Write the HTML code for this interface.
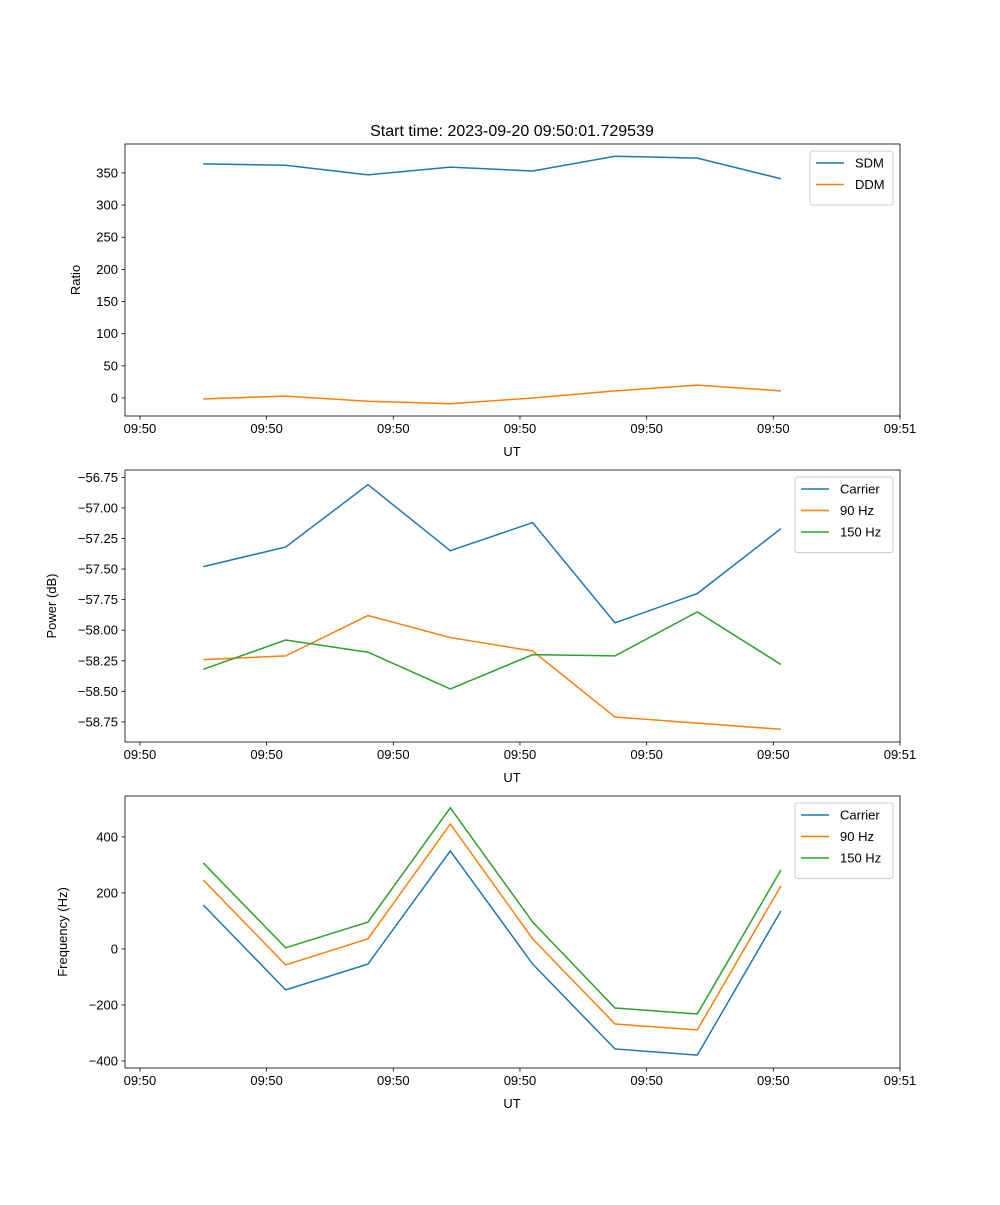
<!DOCTYPE html>
<html><head><meta charset="utf-8"><style>
body{margin:0;background:#fff}
svg{font-family:"Liberation Sans","DejaVu Sans",sans-serif}
</style></head><body>
<svg id="fig" width="1000" height="1200" viewBox="0 0 1000 1200">
<rect width="1000" height="1200" fill="#fff"/>
<text x="512" y="136" font-size="16" text-anchor="middle">Start time: 2023-09-20 09:50:01.729539</text>
</svg>
<script>
const times = [5.0, 11.5, 18.0, 24.5, 31.0, 37.5, 44.0, 50.6];
const xTicks = [0, 10, 20, 30, 40, 50, 60];
const xTickLabels = ["09:50","09:50","09:50","09:50","09:50","09:50","09:51"];
const sdm = [364, 362, 347, 359, 353, 376, 373, 341];
const ddm = [-1.5, 3, -5, -9, 0, 11, 20, 11];
const ratioTicks = [0, 50, 100, 150, 200, 250, 300, 350];
const powCarrier = [-57.48, -57.32, -56.81, -57.35, -57.12, -57.94, -57.70, -57.17];
const pow90 = [-58.24, -58.21, -57.88, -58.06, -58.17, -58.71, -58.76, -58.81];
const pow150 = [-58.32, -58.08, -58.18, -58.48, -58.20, -58.21, -57.85, -58.28];
const powTicks = [-56.75, -57.00, -57.25, -57.50, -57.75, -58.00, -58.25, -58.50, -58.75];
const freqCarrier = [157, -146, -54, 350, -54, -357, -379, 136];
const freq90 = [246, -57, 36, 446, 36, -268, -289, 225];
const freq150 = [307, 4, 96, 504, 96, -211, -232, 282];
const freqTicks = [-400, -200, 0, 200, 400];

const NS = "http://www.w3.org/2000/svg";
const svg = document.getElementById("fig");
const X0 = 125, X1 = 900, XMIN = -1.18, XMAX = 60;
function xs(v){ return X0 + (v - XMIN) / (XMAX - XMIN) * (X1 - X0); }
function mk(tag, attrs, parent){ const e = document.createElementNS(NS, tag); for (const k in attrs) e.setAttribute(k, attrs[k]); (parent||svg).appendChild(e); return e; }

function panel(name, top, bot, ymin, ymax, yTicks, fmt, ylabel, series, legend){
  const g = mk("g", {});
  
  
  const ys = v => bot - (v - ymin) / (ymax - ymin) * (bot - top);
  series.forEach(s => {
    const p = mk("polyline", {points: s.vals.map((v,i) => xs(times[i]) + "," + ys(v)).join(" "), fill: "none", stroke: s.color, "stroke-width": 1.5}, g);
    
    
  });
  const fr = mk("rect", {x: X0, y: top, width: X1 - X0, height: bot - top, fill: "none", stroke: "#000", "stroke-width": 0.8}, g);
  
  
  xTicks.forEach((t,i) => {
    const x = xs(t);
    mk("line", {x1: x, x2: x, y1: bot, y2: bot + 3.5, stroke: "#000", "stroke-width": 0.8}, g);
    const tx = mk("text", {x: x, y: bot + 17, "font-size": 13, "text-anchor": "middle"}, g);
    tx.textContent = xTickLabels[i];
    
    
  });
  yTicks.forEach(t => {
    const y = ys(t);
    mk("line", {x1: X0 - 3.5, x2: X0, y1: y, y2: y, stroke: "#000", "stroke-width": 0.8}, g);
    const tx = mk("text", {x: X0 - 7, y: y + 4.5, "font-size": 13, "text-anchor": "end"}, g);
    tx.textContent = fmt(t);
    
    
  });
  const xl = mk("text", {x: 512, y: bot + 40, "font-size": 13, "text-anchor": "middle"}, g);
  xl.textContent = "UT";
  
  
  const yl = mk("text", {x: 0, y: 0, "font-size": 13, "text-anchor": "middle", transform: "translate(" + legend.ylx + "," + ((top + bot) / 2) + ") rotate(-90)"}, g);
  yl.textContent = ylabel;
  
  
  const lg = mk("g", {}, g);
  
  
  mk("rect", {x: legend.x, y: top + 7, width: 893 - legend.x, height: 11 + series.length * 21.5, rx: 3, fill: "#fff", stroke: "#ccc", "stroke-width": 1}, lg);
  series.forEach((s,i) => {
    const y = top + 19 + i * 21.5;
    mk("line", {x1: legend.x + 6, x2: legend.x + 34, y1: y, y2: y, stroke: s.color, "stroke-width": 1.5}, lg);
    const t = mk("text", {x: legend.x + 45, y: y + 4.5, "font-size": 13}, lg);
    t.textContent = s.label;
    
    
  });
}

panel("ratio", 144, 416, -28, 395, ratioTicks, v => String(v), "Ratio",
  [{key:"sdm", label:"SDM", vals:sdm, color:"#1f77b4"}, {key:"ddm", label:"DDM", vals:ddm, color:"#ff7f0e"}],
  {x: 810, ylx: 80});
panel("power", 470, 742, -58.914, -56.69, powTicks, v => v.toFixed(2).replace("-", "\u2212"), "Power (dB)",
  [{key:"carrier", label:"Carrier", vals:powCarrier, color:"#1f77b4"}, {key:"90hz", label:"90 Hz", vals:pow90, color:"#ff7f0e"}, {key:"150hz", label:"150 Hz", vals:pow150, color:"#2ca02c"}],
  {x: 795, ylx: 56});
panel("frequency", 796, 1068, -425, 546, freqTicks, v => String(v).replace("-", "\u2212"), "Frequency (Hz)",
  [{key:"carrier", label:"Carrier", vals:freqCarrier, color:"#1f77b4"}, {key:"90hz", label:"90 Hz", vals:freq90, color:"#ff7f0e"}, {key:"150hz", label:"150 Hz", vals:freq150, color:"#2ca02c"}],
  {x: 795, ylx: 67});
</script>
</body></html>
